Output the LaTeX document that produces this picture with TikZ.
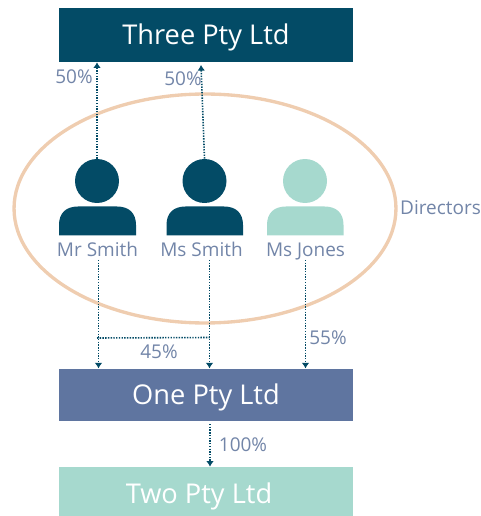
\documentclass[tikz,border=0pt]{standalone}
\usepackage{fontspec}
\setmainfont{Open Sans}
\usepackage{tikz}
\usetikzlibrary{arrows.meta}
\usetikzlibrary{shapes.geometric}
\definecolor{darkteal}{HTML}{034B66}
\definecolor{slateblue}{HTML}{5F75A0}
\definecolor{paleteal}{HTML}{A6D9CE}
\definecolor{peach}{HTML}{EFCDB0}
\definecolor{labelblue}{HTML}{7285A8}
\tikzset{
  company/.style={shape=rectangle, minimum width=5.88cm, minimum height=#1, inner sep=0pt, text=white, text height=11pt, text depth=0pt, font=\fontsize{15.5}{18}\selectfont},
  head/.style={shape=circle, minimum size=0.88cm, inner sep=0pt},
  lab/.style={text=labelblue, inner sep=0pt, text height=7.7pt, text depth=0pt, font=\fontsize{10.8}{13}\selectfont},
  link/.style={draw=darkteal, line width=0.9pt, dash pattern=on 0.8pt off 0.75pt, -{Latex[length=3.2pt,width=4.4pt]}}
}
\begin{document}
\begin{tikzpicture}[x=0.02cm, y=-0.02cm]
      \useasboundingbox (0,0) rectangle (480,516);

      \node[company=1.08cm, fill=darkteal] (three) at (206,35) {Three Pty Ltd};
      \node[company=1.05cm, fill=slateblue] (one) at (206,395) {One Pty Ltd};
      \node[company=1.08cm, fill=paleteal] (two) at (206,494) {\hspace{-0.28cm}Two Pty Ltd};

      \node[draw=peach, line width=1.9pt, shape=ellipse, minimum width=7.64cm, minimum height=4.58cm, inner sep=0pt] (directors) at (205,208.5) {};
      \node[lab] (directorslab) at (440.5,207.5) {Directors};

      \node[head, fill=darkteal] (mrhead) at (97,181) {};
      \node[head, fill=darkteal] (mshead) at (204.5,181) {};
      \node[head, fill=paleteal] (joneshead) at (305,181) {};
      \fill[darkteal] (59,235.5) -- (59,225) .. controls (59,213) and (66,206.5) .. (78,206.5) -- (117,206.5) .. controls (129,206.5) and (136,213) .. (136,225) -- (136,235.5) -- cycle;
      \fill[darkteal] (166.5,235.5) -- (166.5,225) .. controls (166.5,213) and (173.5,206.5) .. (185.5,206.5) -- (224,206.5) .. controls (236,206.5) and (243,213) .. (243,225) -- (243,235.5) -- cycle;
      \fill[paleteal] (267,235.5) -- (267,225) .. controls (267,213) and (274,206.5) .. (286,206.5) -- (324.5,206.5) .. controls (336.5,206.5) and (343.5,213) .. (343.5,225) -- (343.5,235.5) -- cycle;

      \node[lab] (mrlab) at (97.5,249.5) {Mr Smith};
      \node[lab] (mslab) at (201.5,249.5) {Ms Smith};
      \node[lab] (joneslab) at (305.5,249.5) {Ms Jones};

      \coordinate (mstop) at (201,65);
      \coordinate (mrfoot) at (98.5,260);
      \coordinate (msfoot) at (209.5,260);
      \coordinate (jonesfoot) at (305.5,260);
      \coordinate (mrjoin) at (97,338);
      \coordinate (msjoin) at (209.5,337.5);
      \coordinate (onefoot) at (210,424);

      \draw[link] (mrhead.north) -- (mrhead.north |- three.south);
      \draw[link] (mshead.north) -- (mstop);
      \draw[link] (mrfoot) -- (mrfoot |- one.north);
      \draw[link] (msfoot) -- (msfoot |- one.north);
      \draw[link] (jonesfoot) -- (jonesfoot |- one.north);
      \draw[link, -] (mrjoin) -- (msjoin);
      \draw[link] (onefoot) -- (onefoot |- two.north);

      \node[lab] (lab50a) at (74,76.5) {50\%};
      \node[lab] (lab50b) at (183,79) {50\%};
      \node[lab] (lab45) at (159,352) {45\%};
      \node[lab] (lab55) at (328,338) {55\%};
      \node[lab] (lab100) at (243,445) {100\%};
    \end{tikzpicture}
\end{document}
